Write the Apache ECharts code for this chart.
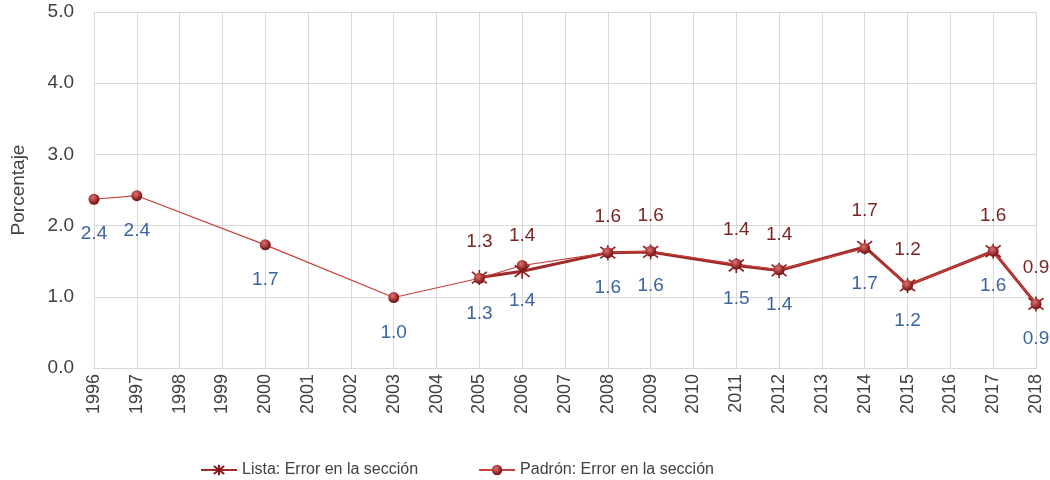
<!DOCTYPE html>
<html><head><meta charset="utf-8">
<script src="https://cdn.jsdelivr.net/npm/echarts@6/dist/echarts.min.js"></script>
<style>html,body{margin:0;padding:0;background:#fff}#c{width:1050px;height:480px}</style>
</head><body><div id="c"></div>
<script>
const years = ['1996','1997','1998','1999','2000','2001','2002','2003','2004','2005','2006','2007','2008','2009','2010','2011','2012','2013','2014','2015','2016','2017','2018'];
const lista = [null,null,null,null,null,null,null,null,null,1.27,1.36,null,1.62,1.63,null,1.44,1.37,null,1.70,1.16,null,1.64,0.90];
const padron = [2.37,2.42,null,null,1.73,null,null,0.99,null,1.26,1.44,null,1.62,1.64,null,1.46,1.38,null,1.68,1.16,null,1.64,0.90];
const yTicks = ['0.0','1.0','2.0','3.0','4.0','5.0'];

const font = 'Liberation Sans, Arial, sans-serif';
const chart = echarts.init(document.getElementById('c'));
const star = 'path://M0,0L10,10M10,0L0,10M5,-1.5L5,11.5';
chart.setOption({
  animation: false,
  textStyle: {fontFamily: font},
  grid: {left: 94, right: 14, top: 12, bottom: 112},
  legend: {
    top: 457, left: 195, itemGap: 60, itemWidth: 36, itemHeight: 13,
    textStyle: {fontSize: 16, color: '#404040', fontFamily: font},
    data: ['Lista: Error en la sección', 'Padrón: Error en la sección']
  },
  xAxis: {
    type: 'category', data: years, boundaryGap: false,
    axisLine: {lineStyle: {color: '#d9d9d9'}},
    axisTick: {show: false},
    axisLabel: {rotate: 90, fontSize: 18, color: '#404040', margin: 6, interval: 0},
    splitLine: {show: true, lineStyle: {color: '#d9d9d9'}}
  },
  yAxis: {
    type: 'value', min: 0, max: 5, interval: 1,
    name: 'Porcentaje', nameLocation: 'middle', nameGap: 66, nameRotate: 90,
    nameTextStyle: {fontSize: 19, color: '#404040'},
    axisLabel: {fontSize: 19, color: '#404040', margin: 20, formatter: v => yTicks[Math.round(v)]},
    axisLine: {show: false}, axisTick: {show: false},
    splitLine: {lineStyle: {color: '#d9d9d9'}}
  },
  series: [
    {
      name: 'Lista: Error en la sección', type: 'line', data: lista, connectNulls: true,
      symbol: star, symbolSize: 15,
      lineStyle: {color: '#9E2A2A', width: 3},
      itemStyle: {color: '#8B1A1A', borderColor: '#8B1A1A', borderWidth: 1.6},
      label: {show: true, position: 'top', distance: 18, fontSize: 19, color: '#7A2424',
        formatter: p => p.value == null ? '' : p.value.toFixed(1)},
      z: 2
    },
    {
      name: 'Padrón: Error en la sección', type: 'line', data: padron, connectNulls: true,
      symbol: 'circle', symbolSize: 11,
      lineStyle: {color: '#C8403A', width: 1.2},
      itemStyle: {color: {type: 'radial', x: 0.4, y: 0.35, r: 0.6, colorStops: [
        {offset: 0, color: '#E07070'}, {offset: 1, color: '#7A1515'}]}},
      label: {show: true, position: 'bottom', distance: 20, fontSize: 19, color: '#3A65A0',
        formatter: p => p.value == null ? '' : p.value.toFixed(1)},
      z: 3
    }
  ]
});
</script></body></html>
